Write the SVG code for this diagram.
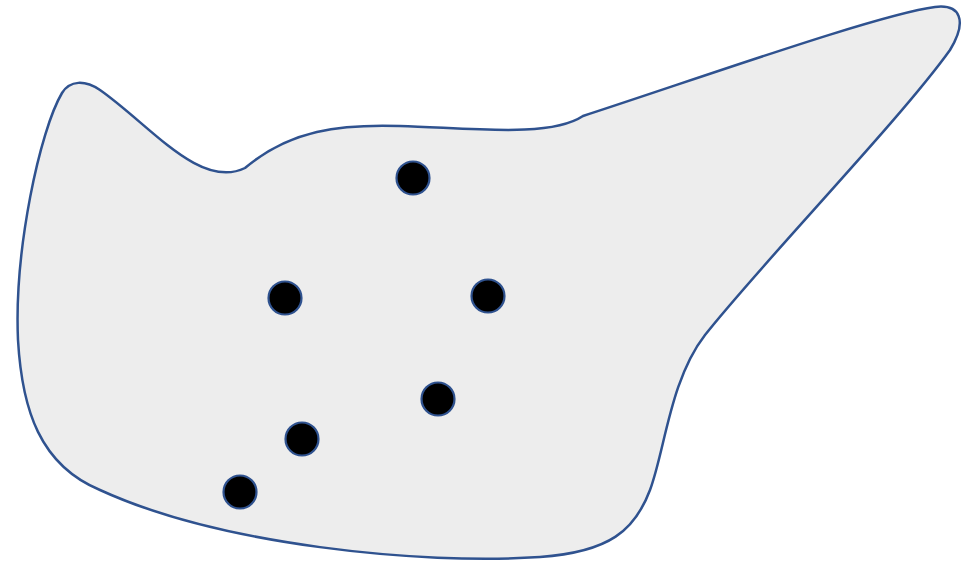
<svg xmlns="http://www.w3.org/2000/svg" width="966" height="564" viewBox="0 0 966 564">
<style>
.blob{fill:#ededed;stroke:#2f528f;stroke-width:2.5}
.dot{fill:#000;stroke:#2f528f;stroke-width:2.2}
</style>
<rect width="966" height="564" fill="#fff"/>
<g id="region">
<path class="blob" d="M 583 116 C 700 78, 880 14, 935 7 C 960 4, 968 20, 950 50 C 900 120, 760 265, 705 335 C 670 380, 665 450, 650 490 C 635 530, 610 552, 540 557 C 420 565, 220 545, 100 490 C 40 465, 22 410, 18 340 C 14 250, 40 130, 62 93 C 70 80, 85 80, 100 90 C 150 125, 200 190, 245 168 C 290 130, 340 124, 400 126 C 470 128, 550 138, 583 116 Z"/>
</g>
<g id="p1"><circle class="dot" cx="413" cy="178" r="16.5"/></g>
<g id="p2"><circle class="dot" cx="285" cy="298" r="16.5"/></g>
<g id="p3"><circle class="dot" cx="488" cy="296" r="16.5"/></g>
<g id="p4"><circle class="dot" cx="438" cy="399" r="16.5"/></g>
<g id="p5"><circle class="dot" cx="302" cy="439" r="16.5"/></g>
<g id="p6"><circle class="dot" cx="240" cy="492" r="16.5"/></g>
<g id="connectors"/>
</svg>
